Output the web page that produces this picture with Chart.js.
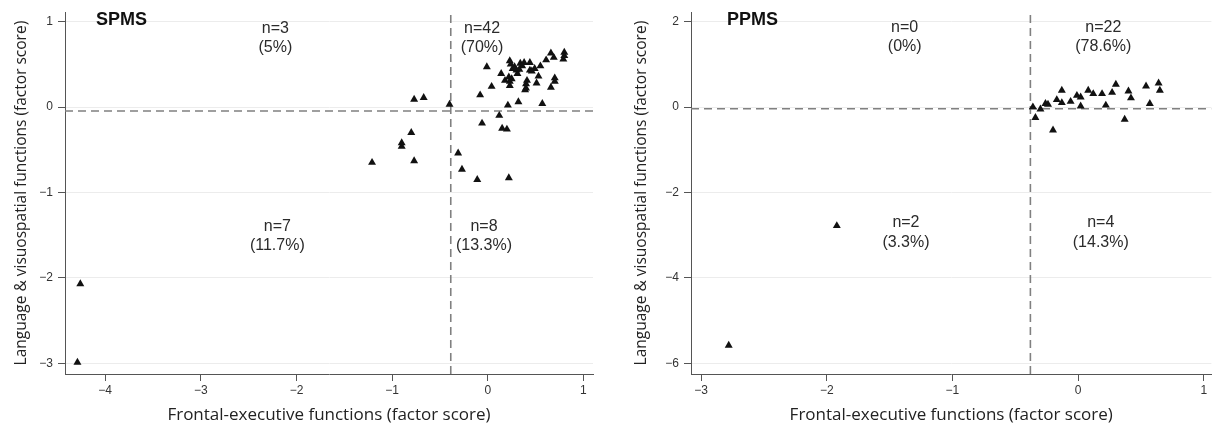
<!DOCTYPE html>
<html>
<head>
<meta charset="utf-8">
<script src="https://cdn.jsdelivr.net/npm/chart.js@4.4.1/dist/chart.umd.min.js"></script>
<style>
  html, body { margin: 0; padding: 0; background: #fff; }
  #wrap { position: relative; width: 1216px; height: 438px; overflow: hidden; }
  canvas { position: absolute; top: 0; }
  #c1 { left: 0; }
  #c2 { left: 600px; }
</style>
</head>
<body>
<div id="wrap">
  <canvas id="c1" width="600" height="438"></canvas>
  <canvas id="c2" width="616" height="438"></canvas>
</div>
<script>
// ---------- SPMS data (frontal-executive x, language & visuospatial y) ----------
const spmsX = [
  -0.01, 0.23, 0.24, 0.28, 0.34, 0.36, 0.38, 0.44, 0.44, 0.49, 0.55, 0.61, 0.66, 0.69,
  0.80, 0.79, 0.80, 0.14, 0.31, 0.30, 0.18, 0.23, 0.25, 0.23, 0.41, 0.40, 0.53, 0.51,
  0.39, 0.40, 0.70, 0.70, 0.66, 0.04, -0.08, 0.32, 0.21, 0.57, 0.46, 0.26, 0.22, 0.33,
  -0.77, -0.67, -0.40,
  -0.80, -0.90, -0.90, -1.21, -0.77, -4.26, -4.29,
  -0.31, -0.27, -0.11, 0.22, 0.12, -0.06, 0.15, 0.20
];
const spmsY = [
  0.47, 0.54, 0.50, 0.47, 0.51, 0.48, 0.52, 0.52, 0.43, 0.45, 0.48, 0.55, 0.63, 0.58,
  0.64, 0.56, 0.60, 0.39, 0.39, 0.43, 0.31, 0.30, 0.33, 0.25, 0.31, 0.27, 0.36, 0.28,
  0.20, 0.22, 0.34, 0.30, 0.23, 0.24, 0.14, 0.06, 0.02, 0.04, 0.42, 0.45, 0.35, 0.44,
  0.09, 0.11, 0.03,
  -0.30, -0.42, -0.46, -0.65, -0.63, -2.07, -2.99,
  -0.54, -0.73, -0.85, -0.83, -0.10, -0.19, -0.25, -0.26
];
const spmsXTicks = [-4, -3, -2, -1, 0, 1];
const spmsYTicks = [-3, -2, -1, 0, 1];
const spmsXRange = [-4.42, 1.10];
const spmsYRange = [-3.125, 1.11];
const spmsCutX = -0.387;
const spmsCutY = -0.047;
const spmsQuadText = [["n=3", "(5%)"], ["n=42", "(70%)"], ["n=7", "(11.7%)"], ["n=8", "(13.3%)"]];
const spmsQuadX = [-2.22, -0.06, -2.20, -0.04];
const spmsQuadY = [0.92, -1.40]; // top row, bottom row (first line)
const spmsQuadY2 = [0.69, -1.62];

// ---------- PPMS data ----------
const ppmsX = [
  -0.36, -0.26, -0.24, -0.17, -0.13, -0.13, -0.06, -0.01, 0.02, 0.02, 0.08,
  0.12, 0.19, 0.22, 0.27, 0.30, 0.40, 0.42, 0.54, 0.57, 0.64, 0.65,
  -0.34, -0.30, -0.20, 0.37,
  -1.92, -2.78
];
const ppmsY = [
  0.00, 0.08, 0.06, 0.17, 0.39, 0.10, 0.13, 0.27, 0.23, 0.02, 0.39,
  0.31, 0.31, 0.04, 0.34, 0.53, 0.37, 0.21, 0.49, 0.08, 0.56, 0.39,
  -0.25, -0.05, -0.54, -0.29,
  -2.78, -5.58
];
const ppmsXTicks = [-3, -2, -1, 0, 1];
const ppmsYTicks = [-6, -4, -2, 0, 2];
const ppmsXRange = [-3.08, 1.06];
const ppmsYRange = [-6.25, 2.22];
const ppmsCutX = -0.38;
const ppmsCutY = -0.04;
const ppmsQuadText = [["n=0", "(0%)"], ["n=22", "(78.6%)"], ["n=2", "(3.3%)"], ["n=4", "(14.3%)"]];
const ppmsQuadX = [-1.38, 0.20, -1.37, 0.18];
const ppmsQuadY = [1.87, -2.71];
const ppmsQuadY2 = [1.42, -3.17];

const xTitle = "Frontal-executive functions (factor score)";
const yTitle = "Language & visuospatial functions (factor score)";

function fmt(v) { return v < 0 ? "\u2212" + Math.abs(v) : String(v); }

const textPlugin = {
  id: 'quadText',
  afterDatasetsDraw(chart, args, opts) {
    const ctx = chart.ctx;
    const xs = chart.scales.x, ys = chart.scales.y;
    ctx.save();
    ctx.fillStyle = '#2b2b2b';
    ctx.font = '16px "Liberation Sans", Arial, sans-serif';
    ctx.textAlign = 'center';
    ctx.textBaseline = 'middle';
    opts.texts.forEach((t, i) => {
      const row = i < 2 ? 0 : 1;
      const px = xs.getPixelForValue(opts.qx[i]);
      ctx.fillText(t[0], px, ys.getPixelForValue(opts.qy[row]));
      ctx.fillText(t[1], px, ys.getPixelForValue(opts.qy2[row]));
    });
    ctx.font = 'bold 18px "Liberation Sans", Arial, sans-serif';
    ctx.fillStyle = '#111';
    ctx.textAlign = 'left';
    ctx.fillText(opts.panel, chart.chartArea.left + opts.panelDx, chart.chartArea.top + 8);
    ctx.restore();
  }
};

function makeChart(id, cfg) {
  const xs = cfg.xs, ys = cfg.ys;
  const pts = xs.map((v, i) => ({ x: v, y: ys[i] }));
  return new Chart(document.getElementById(id), {
    type: 'scatter',
    data: {
      datasets: [
        {
          type: 'line',
          data: [{ x: cfg.xr[0], y: cfg.cutY }, { x: cfg.xr[1], y: cfg.cutY }],
          borderColor: '#808080', borderWidth: 1.6, borderDash: [8, 5],
          pointRadius: 0, fill: false, order: 2
        },
        {
          type: 'line',
          data: [{ x: cfg.cutX, y: cfg.yr[0] }, { x: cfg.cutX, y: cfg.yr[1] }],
          borderColor: '#808080', borderWidth: 1.6, borderDash: [8, 5],
          pointRadius: 0, fill: false, order: 2
        },
        {
          data: pts,
          pointStyle: 'triangle',
          pointRadius: 4.6,
          pointBackgroundColor: '#111',
          pointBorderColor: '#111',
          pointBorderWidth: 0,
          order: 1
        }
      ]
    },
    options: {
      responsive: false,
      animation: false,
      events: [],
      layout: { padding: cfg.pad },
      plugins: {
        legend: { display: false },
        tooltip: { enabled: false },
        quadText: { texts: cfg.texts, qx: cfg.qx, qy: cfg.qy, qy2: cfg.qy2, panel: cfg.panel, panelDx: cfg.panelDx }
      },
      scales: {
        x: {
          type: 'linear',
          min: cfg.xr[0], max: cfg.xr[1],
          afterBuildTicks: s => { s.ticks = cfg.xt.map(v => ({ value: v })); },
          afterFit: s => { s.height = 64; },
          ticks: {
            callback: v => fmt(v),
            font: { family: '"Liberation Sans", Arial, sans-serif', size: 12 },
            color: '#333', padding: 2, maxRotation: 0, autoSkip: false
          },
          grid: { drawOnChartArea: false, drawTicks: true, tickLength: 7, tickColor: '#555' },
          border: { color: '#555', width: 1 },
          title: {
            display: true, text: xTitle, color: '#222',
            font: { family: '"Open Sans", sans-serif', size: 17 },
            padding: { top: 0, bottom: 13 }
          }
        },
        y: {
          type: 'linear',
          min: cfg.yr[0], max: cfg.yr[1],
          afterBuildTicks: s => { s.ticks = cfg.yt.map(v => ({ value: v })); },
          afterFit: s => { s.width = cfg.yw; },
          ticks: {
            callback: v => fmt(v),
            font: { family: '"Liberation Sans", Arial, sans-serif', size: 12 },
            color: '#333', padding: 5, autoSkip: false
          },
          grid: { color: '#ececec', lineWidth: 1, tickLength: 7, tickColor: '#555' },
          border: { color: '#555', width: 1 },
          title: {
            display: true, text: yTitle, color: '#222',
            font: { family: '"Open Sans", sans-serif', size: 15.5 },
            padding: { top: 12, bottom: 0 }
          }
        }
      }
    },
    plugins: [textPlugin]
  });
}

makeChart('c1', {
  xs: spmsX, ys: spmsY, xr: spmsXRange, yr: spmsYRange, xt: spmsXTicks, yt: spmsYTicks,
  cutX: spmsCutX, cutY: spmsCutY, texts: spmsQuadText, qx: spmsQuadX, qy: spmsQuadY, qy2: spmsQuadY2,
  panel: 'SPMS', panelDx: 31, pad: { left: 0, top: 12, right: 7, bottom: 0 }, yw: 65
});
makeChart('c2', {
  xs: ppmsX, ys: ppmsY, xr: ppmsXRange, yr: ppmsYRange, xt: ppmsXTicks, yt: ppmsYTicks,
  cutX: ppmsCutX, cutY: ppmsCutY, texts: ppmsQuadText, qx: ppmsQuadX, qy: ppmsQuadY, qy2: ppmsQuadY2,
  panel: 'PPMS', panelDx: 36, pad: { left: 20, top: 12, right: 0, bottom: 0 }, yw: 71
});
</script>
</body>
</html>
